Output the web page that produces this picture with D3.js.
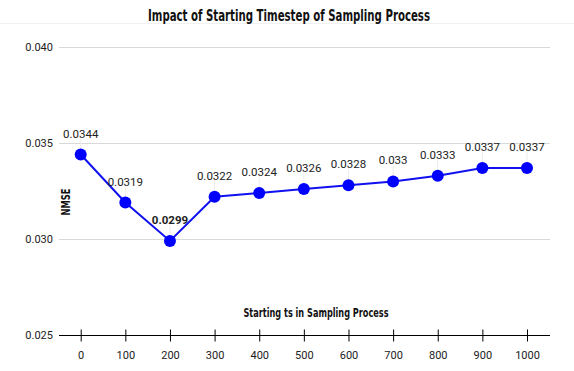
<!DOCTYPE html>
<html><head><meta charset="utf-8">
<script src="https://cdn.jsdelivr.net/npm/d3@7"></script>
<style>body{margin:0;background:#fff}svg{display:block}</style>
</head><body><svg id="c" width="574" height="371"></svg>
<script>
const steps = [0,100,200,300,400,500,600,700,800,900,1000];
const nmse = [0.0344,0.0319,0.0299,0.0322,0.0324,0.0326,0.0328,0.033,0.0333,0.0337,0.0337];
const labels = ["0.0344","0.0319","0.0299","0.0322","0.0324","0.0326","0.0328","0.033","0.0333","0.0337","0.0337"];
const yTicks = [0.025,0.030,0.035,0.040];
const title = "Impact of Starting Timestep of Sampling Process";
const xTitle = "Starting ts in Sampling Process";
const yTitle = "NMSE";

const svg = d3.select("#c");
const x = d3.scaleLinear().domain([0,1000]).range([80.7,527]);
const y = d3.scaleLinear().domain([0.025,0.040]).range([335,47]);
const L = 59, R = 550;
const condensed = "'DejaVu Sans Condensed','DejaVu Sans',sans-serif";

svg.append("line").attr("x1",0).attr("x2",574).attr("y1",23.5).attr("y2",23.5).attr("stroke","#f0f0f0");
svg.append("text").attr("x",289).attr("y",21).attr("text-anchor","middle")
  .attr("font-family",condensed).attr("font-weight","bold").attr("font-size",16).attr("fill","#111")
  .attr("textLength",282).attr("lengthAdjust","spacingAndGlyphs").text(title);

// gridlines
svg.append("g").selectAll("line").data(yTicks.filter(d=>d>0.025)).join("line")
  .attr("x1",L).attr("x2",R).attr("y1",d=>Math.round(y(d))+0.5).attr("y2",d=>Math.round(y(d))+0.5)
  .attr("stroke","#d9d9d9");

// y axis labels
const ya = svg.append("g").attr("transform",`translate(${L},0)`)
  .call(d3.axisLeft(y).tickValues(yTicks).tickFormat(d3.format(".3f")).tickSize(0).tickPadding(6));
ya.select(".domain").remove();
ya.selectAll("text").attr("font-family","Roboto").attr("font-size",11).attr("fill","#222");

// x axis
const xa = svg.append("g").attr("transform",`translate(0,${Math.round(y(0.025))+0.5})`)
  .call(d3.axisBottom(x).tickValues(steps).tickFormat(d3.format("d")).tickSize(6).tickPadding(10));
xa.select(".domain").attr("d",`M${L},0H${R}`).attr("stroke","#000");
xa.selectAll(".tick line").attr("y1",-6).attr("y2",6).attr("stroke","#000");
xa.selectAll("text").attr("font-family","Roboto").attr("font-size",11).attr("fill","#222");

// axis titles
svg.append("text").attr("transform","translate(70,202) rotate(-90)").attr("text-anchor","middle")
  .attr("font-family",condensed).attr("font-weight","bold").attr("font-size",13).attr("fill","#111")
  .attr("textLength",27).attr("lengthAdjust","spacingAndGlyphs").text(yTitle);
svg.append("text").attr("x",316).attr("y",317).attr("text-anchor","middle")
  .attr("font-family",condensed).attr("font-weight","bold").attr("font-size",13).attr("fill","#111")
  .attr("textLength",145).attr("lengthAdjust","spacingAndGlyphs").text(xTitle);

// leader lines
svg.append("g").selectAll("line").data(steps).join("line")
  .attr("x1",d=>x(d)).attr("x2",d=>x(d)).attr("y1",(d,i)=>y(nmse[i])-16).attr("y2",(d,i)=>y(nmse[i]))
  .attr("stroke","#ececec");

// line
svg.append("path").datum(steps).attr("fill","none").attr("stroke","#1010f0").attr("stroke-width",2)
  .attr("d",d3.line().x(d=>x(d)).y((d,i)=>y(nmse[i])));
svg.append("g").selectAll("circle").data(steps).join("circle")
  .attr("cx",d=>x(d)).attr("cy",(d,i)=>y(nmse[i])).attr("r",6).attr("fill","#0000ff");

// value labels
svg.append("g").selectAll("text").data(steps).join("text")
  .attr("x",d=>x(d)).attr("y",(d,i)=>y(nmse[i])-17).attr("text-anchor","middle")
  .attr("font-family","Roboto").attr("font-size",11.5).attr("fill","#222")
  .attr("font-weight",(d,i)=>i===2?"bold":"normal").text((d,i)=>labels[i]);
</script></body></html>
